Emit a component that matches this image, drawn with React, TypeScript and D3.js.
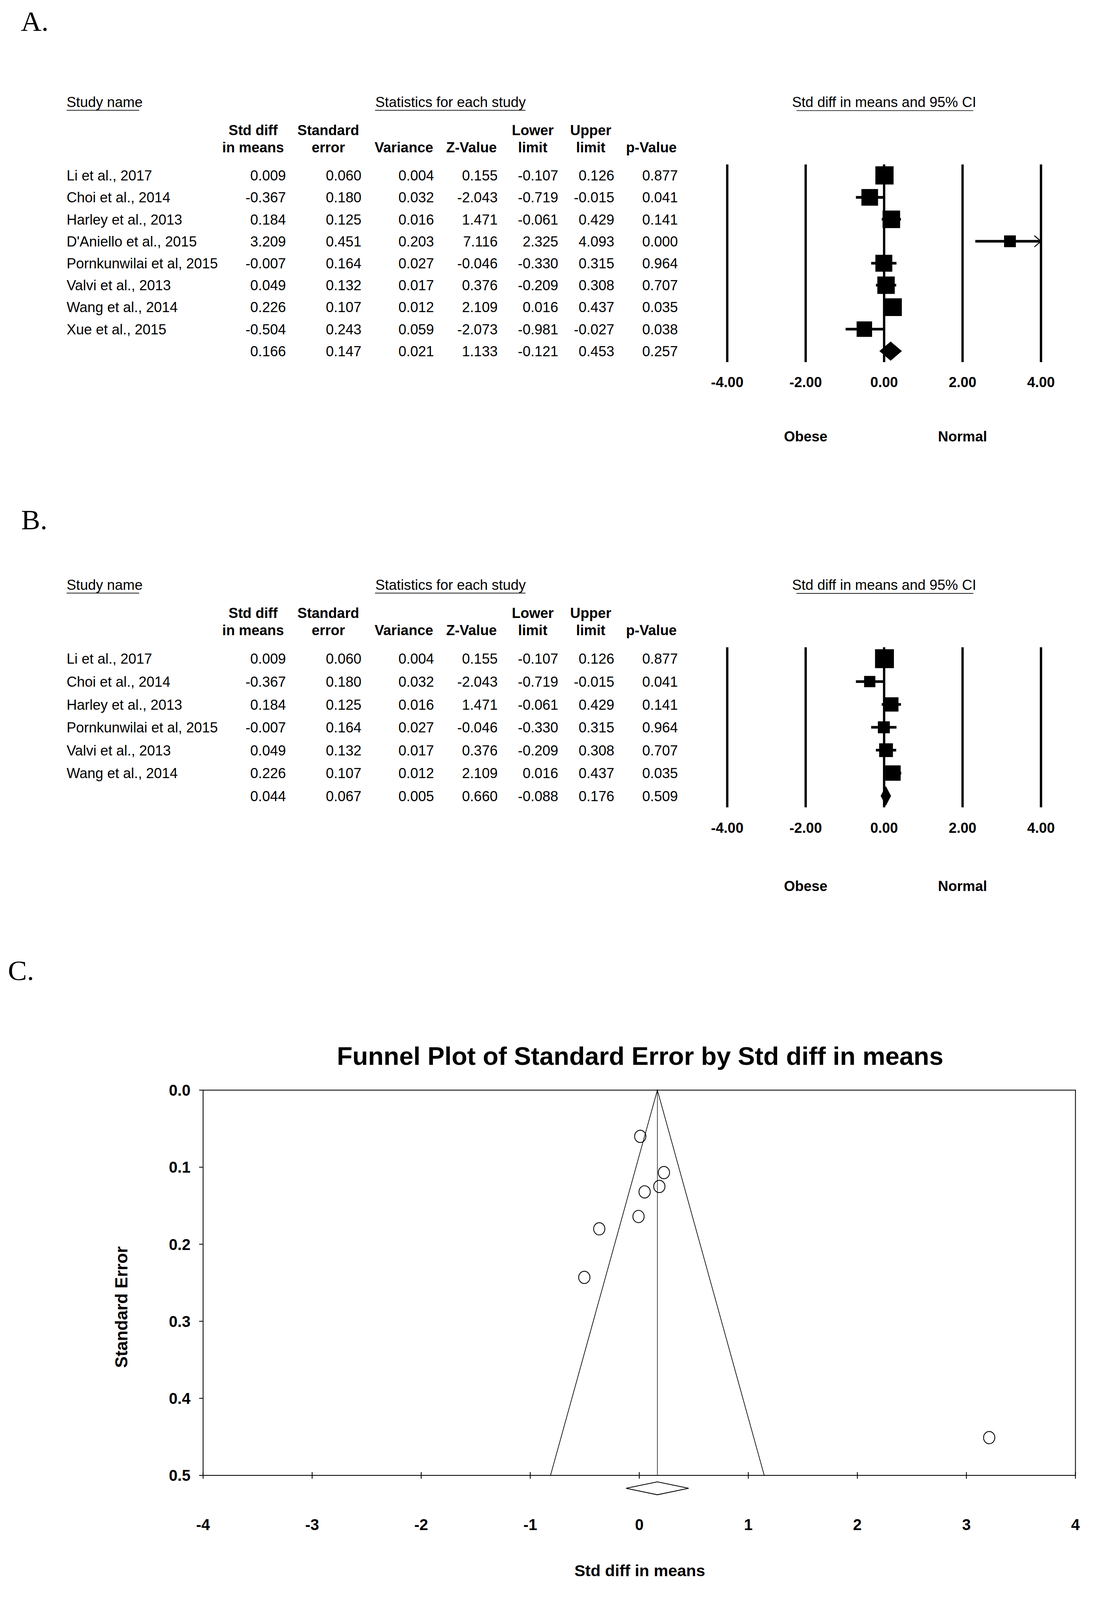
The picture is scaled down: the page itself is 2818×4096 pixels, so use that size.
import React from "react";
import * as d3 from "d3";

// ---------- DATA ----------
const studyNamesA = [
  "Li et al., 2017",
  "Choi et al., 2014",
  "Harley et al., 2013",
  "D'Aniello et al., 2015",
  "Pornkunwilai et al, 2015",
  "Valvi et al., 2013",
  "Wang et al., 2014",
  "Xue et al., 2015",
];
const stdDiffA = [0.009, -0.367, 0.184, 3.209, -0.007, 0.049, 0.226, -0.504];
const stdErrA = [0.06, 0.18, 0.125, 0.451, 0.164, 0.132, 0.107, 0.243];
const varianceA = [0.004, 0.032, 0.016, 0.203, 0.027, 0.017, 0.012, 0.059];
const zValueA = [0.155, -2.043, 1.471, 7.116, -0.046, 0.376, 2.109, -2.073];
const lowerA = [-0.107, -0.719, -0.061, 2.325, -0.33, -0.209, 0.016, -0.981];
const upperA = [0.126, -0.015, 0.429, 4.093, 0.315, 0.308, 0.437, -0.027];
const pValueA = [0.877, 0.041, 0.141, 0.0, 0.964, 0.707, 0.035, 0.038];
const weightsA = [15.1, 12.6, 14.0, 6.3, 13.0, 13.8, 14.3, 10.9];
const summaryA = [0.166, 0.147, 0.021, 1.133, -0.121, 0.453, 0.257];

const studyNamesB = [
  "Li et al., 2017",
  "Choi et al., 2014",
  "Harley et al., 2013",
  "Pornkunwilai et al, 2015",
  "Valvi et al., 2013",
  "Wang et al., 2014",
];
const stdDiffB = [0.009, -0.367, 0.184, -0.007, 0.049, 0.226];
const stdErrB = [0.06, 0.18, 0.125, 0.164, 0.132, 0.107];
const varianceB = [0.004, 0.032, 0.016, 0.027, 0.017, 0.012];
const zValueB = [0.155, -2.043, 1.471, -0.046, 0.376, 2.109];
const lowerB = [-0.107, -0.719, -0.061, -0.33, -0.209, 0.016];
const upperB = [0.126, -0.015, 0.429, 0.315, 0.308, 0.437];
const pValueB = [0.877, 0.041, 0.141, 0.964, 0.707, 0.035];
const weightsB = [28.4, 10.1, 16.2, 11.4, 15.1, 18.8];
const summaryB = [0.044, 0.067, 0.005, 0.66, -0.088, 0.176, 0.509];

const forestTicks = [-4, -2, 0, 2, 4];
const forestLeftLabel = "Obese";
const forestRightLabel = "Normal";

const funnelXTicks = [-4, -3, -2, -1, 0, 1, 2, 3, 4];
const funnelYTicks = [0, 0.1, 0.2, 0.3, 0.4, 0.5];
const funnelApex = { x: 0.166, se: 0 };
const funnelBase = { lo: -0.814, hi: 1.146, se: 0.5 };
const funnelSummary = { est: 0.166, lo: -0.121, hi: 0.453 };

const colHeaders1 = ["Std diff", "Standard", "", "", "Lower", "Upper", ""];
const colHeaders2 = ["in means", "error", "Variance", "Z-Value", "limit", "limit", "p-Value"];

// ---------- STYLE / LAYOUT (reference units, scaled by K) ----------
const K = 0.848;
const SANS = "'Liberation Sans', Arial, Helvetica, sans-serif";
const SERIF = "'Liberation Serif', 'Times New Roman', Times, serif";
const FS = 43;
const colRight = [863, 1091, 1310, 1502, 1685, 1854, 2046];
const colCenter = [764, 991, 1219, 1423, 1608, 1783, 1966];

type ForestProps = {
  names: string[];
  cols: number[][];
  summary: number[];
  weights: number[];
  headY: number;
  rowBase: number;
  rowStep: number;
  maxSide: number;
  diamondH: number;
  tickDy: number;
  sideDy: number;
};

function ForestPanel(p: ForestProps) {
  const x = d3.scaleLinear().domain([-4, 4]).range([2195, 3142]);
  const side = d3
    .scaleSqrt()
    .domain([0, d3.max(p.weights) as number])
    .range([0, p.maxSide]);
  const n = p.names.length;
  const baseY = (i: number) => p.rowBase + i * p.rowStep;
  const cy = (i: number) => baseY(i) - 15.5;
  const top = cy(0) - p.rowStep / 2;
  const bottom = cy(n) + p.rowStep / 2;
  const smd = p.cols[0];
  const lo = p.cols[4];
  const hi = p.cols[5];

  return (
    <g fontFamily={SANS} fontSize={FS} fill="#000">
      <text x={201} y={p.headY}>Study name</text>
      <line x1={201} x2={420} y1={p.headY + 10} y2={p.headY + 10} stroke="#000" strokeWidth={2} />
      <text x={1360} y={p.headY} textAnchor="middle">Statistics for each study</text>
      <line x1={1132} x2={1586} y1={p.headY + 10} y2={p.headY + 10} stroke="#000" strokeWidth={2} />
      <text x={x(0)} y={p.headY} textAnchor="middle">Std diff in means and 95% CI</text>
      <line x1={2404} x2={2938} y1={p.headY + 11} y2={p.headY + 11} stroke="#000" strokeWidth={2} />

      {colHeaders1.map((h, j) => (
        <text key={"h1" + j} x={colCenter[j]} y={p.headY + 85} textAnchor="middle" fontWeight="bold">
          {h}
        </text>
      ))}
      {colHeaders2.map((h, j) => (
        <text key={"h2" + j} x={colCenter[j]} y={p.headY + 136.5} textAnchor="middle" fontWeight="bold">
          {h}
        </text>
      ))}

      {p.names.map((nm, i) => (
        <g key={"r" + i}>
          <text x={201} y={baseY(i)}>{nm}</text>
          {p.cols.map((c, j) => (
            <text key={j} x={colRight[j]} y={baseY(i)} textAnchor="end">
              {c[i].toFixed(3)}
            </text>
          ))}
        </g>
      ))}
      {p.summary.map((v, j) => (
        <text key={"s" + j} x={colRight[j]} y={baseY(n)} textAnchor="end">
          {v.toFixed(3)}
        </text>
      ))}

      {/* forest grid */}
      {forestTicks.map((t) => (
        <line key={"v" + t} x1={x(t)} x2={x(t)} y1={top} y2={bottom} stroke="#000" strokeWidth={7} />
      ))}
      {p.names.map((nm, i) => {
        const a = Math.max(-4, lo[i]);
        const b = Math.min(4, hi[i]);
        const s = side(p.weights[i]);
        return (
          <g key={"m" + i}>
            <line x1={x(a)} x2={x(b)} y1={cy(i)} y2={cy(i)} stroke="#000" strokeWidth={8} />
            {hi[i] > 4 && (
              <polyline
                points={`${x(4) - 20},${cy(i) - 17} ${x(4)},${cy(i)} ${x(4) - 20},${cy(i) + 17}`}
                fill="none"
                stroke="#000"
                strokeWidth={3}
              />
            )}
            {lo[i] < -4 && (
              <polyline
                points={`${x(-4) + 20},${cy(i) - 17} ${x(-4)},${cy(i)} ${x(-4) + 20},${cy(i) + 17}`}
                fill="none"
                stroke="#000"
                strokeWidth={3}
              />
            )}
            <rect x={x(smd[i]) - s / 2} y={cy(i) - s / 2} width={s} height={s} fill="#000" />
          </g>
        );
      })}
      <polygon
        points={`${x(p.summary[4])},${cy(n)} ${x(p.summary[0])},${cy(n) - p.diamondH} ${x(p.summary[5])},${cy(n)} ${x(p.summary[0])},${cy(n) + p.diamondH}`}
        fill="#000"
      />
      {forestTicks.map((t) => (
        <text key={"t" + t} x={x(t)} y={bottom + p.tickDy} textAnchor="middle" fontWeight="bold">
          {t.toFixed(2)}
        </text>
      ))}
      <text x={x(-2)} y={bottom + p.sideDy} textAnchor="middle" fontWeight="bold">{forestLeftLabel}</text>
      <text x={x(2)} y={bottom + p.sideDy} textAnchor="middle" fontWeight="bold">{forestRightLabel}</text>
    </g>
  );
}

function FunnelPanel() {
  const x = d3.scaleLinear().domain([-4, 4]).range([613, 3246]);
  const y = d3.scaleLinear().domain([0, 0.5]).range([3291, 4454]);
  const dy = 4493;
  const dh = 19.5;
  return (
    <g fontFamily={SANS} fill="#000">
      <text x={1932} y={3215} textAnchor="middle" fontWeight="bold" fontSize={77}>
        Funnel Plot of Standard Error by Std diff in means
      </text>
      <rect x={x(-4)} y={y(0)} width={x(4) - x(-4)} height={y(0.5) - y(0)} fill="none" stroke="#000" strokeWidth={2.5} />
      {funnelYTicks.map((t) => (
        <g key={"y" + t}>
          <line x1={x(-4) - 12} x2={x(-4)} y1={y(t)} y2={y(t)} stroke="#000" strokeWidth={2.5} />
          <text x={575} y={y(t) + 17} textAnchor="end" fontWeight="bold" fontSize={47}>
            {t.toFixed(1)}
          </text>
        </g>
      ))}
      {funnelXTicks.map((t) => (
        <g key={"x" + t}>
          <line x1={x(t)} x2={x(t)} y1={y(0.5) - 10} y2={y(0.5) + 10} stroke="#000" strokeWidth={2.5} />
          <text x={x(t)} y={4619} textAnchor="middle" fontWeight="bold" fontSize={47}>
            {String(t)}
          </text>
        </g>
      ))}
      <text
        transform={`translate(384,3946) rotate(-90)`}
        textAnchor="middle"
        fontWeight="bold"
        fontSize={52}
      >
        Standard Error
      </text>
      <text x={1931} y={4758} textAnchor="middle" fontWeight="bold" fontSize={49}>
        Std diff in means
      </text>
      <line x1={x(funnelApex.x)} x2={x(funnelApex.x)} y1={y(0)} y2={y(0.5)} stroke="#000" strokeWidth={1.6} />
      <polyline
        points={`${x(funnelBase.lo)},${y(funnelBase.se)} ${x(funnelApex.x)},${y(funnelApex.se)} ${x(funnelBase.hi)},${y(funnelBase.se)}`}
        fill="none"
        stroke="#000"
        strokeWidth={2}
      />
      {stdDiffA.map((v, i) => (
        <ellipse key={"c" + i} cx={x(v)} cy={y(stdErrA[i])} rx={17} ry={18.5} fill="none" stroke="#000" strokeWidth={2.5} />
      ))}
      <polygon
        points={`${x(funnelSummary.lo)},${dy} ${x(funnelSummary.est)},${dy - dh} ${x(funnelSummary.hi)},${dy} ${x(funnelSummary.est)},${dy + dh}`}
        fill="none"
        stroke="#000"
        strokeWidth={2.5}
      />
    </g>
  );
}

export default function App() {
  const colsA = [stdDiffA, stdErrA, varianceA, zValueA, lowerA, upperA, pValueA];
  const colsB = [stdDiffB, stdErrB, varianceB, zValueB, lowerB, upperB, pValueB];
  return (
    <svg
      width={2818}
      height={4096}
      style={{ position: "absolute", left: 0, top: 0, display: "block", background: "#fff" }}
    >
      <rect x={0} y={0} width={2818} height={4096} fill="#fff" />
      <g transform={`scale(${K})`}>
        <text x={63} y={93} fontFamily={SERIF} fontSize={86}>A.</text>
        <text x={64} y={1598} fontFamily={SERIF} fontSize={86}>B.</text>
        <text x={24} y={2959} fontFamily={SERIF} fontSize={86}>C.</text>
        <ForestPanel
          names={studyNamesA}
          cols={colsA}
          summary={summaryA}
          weights={weightsA}
          headY={323}
          rowBase={545}
          rowStep={66.3}
          maxSide={55}
          diamondH={29}
          tickDy={75}
          sideDy={239}
        />
        <ForestPanel
          names={studyNamesB}
          cols={colsB}
          summary={summaryB}
          weights={weightsB}
          headY={1780.5}
          rowBase={2004}
          rowStep={69.05}
          maxSide={57}
          diamondH={30}
          tickDy={77}
          sideDy={253}
        />
        <FunnelPanel />
      </g>
    </svg>
  );
}
